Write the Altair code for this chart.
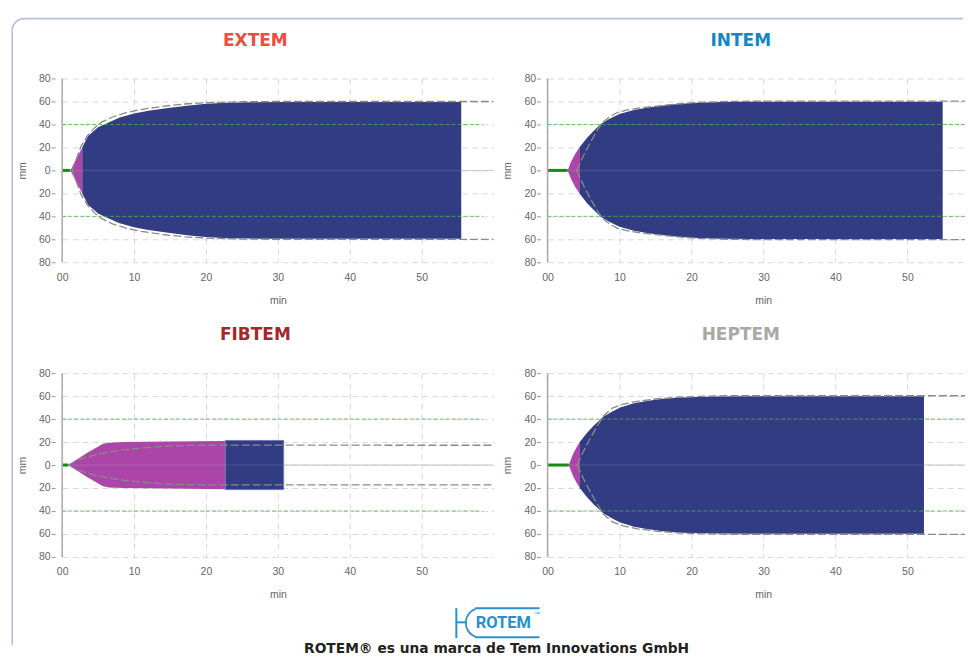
import math
import altair as alt
import pandas as pd

# ---------------- data ----------------
TESTS = ["EXTEM", "INTEM", "FIBTEM", "HEPTEM"]
TITLE_COLORS = ["#f04b3e", "#1586c3", "#a3282b", "#a9a9a3"]
CT_TIMES = [1.15, 2.8, 0.85, 2.96]          # min (green segment)

EXTEM_PINK_T = [1.15, 1.8, 2.35, 2.8]
EXTEM_PINK_A = [0, 8, 14.5, 20]
EXTEM_BLUE_T = [2.8, 3.6, 5, 6, 8, 10, 12, 15, 18, 20, 23, 26, 30, 55.5]
EXTEM_BLUE_A = [20, 30, 37.5, 40.5, 46, 49.5, 52, 54.5, 56.8, 58, 59, 59.4, 59.5, 59.5]
EXTEM_REF_T = [1.4, 2.6, 3.5, 4.5, 5.5, 7, 9, 11, 14, 17, 20, 25, 30, 60]
EXTEM_REF_A = [0, 20.5, 30, 37, 42, 46.5, 50.5, 53, 55.8, 57.8, 59, 59.8, 60, 60]

INTEM_PINK_T = [2.8, 3.3, 3.9, 4.5]
INTEM_PINK_A = [0, 8, 15, 20.5]
INTEM_BLUE_T = [4.5, 5.5, 6.5, 7.4, 8.5, 10, 12, 14, 17, 20, 24, 28, 54.9]
INTEM_BLUE_A = [20.5, 28.5, 35, 40.3, 44.5, 49, 52.5, 54.8, 57.2, 58.7, 59.5, 59.8, 59.8]
INTEM_REF_T = [4.05, 5, 6, 7, 7.6, 8.5, 9.7, 11, 13, 15.7, 18, 21, 25, 30, 60]
INTEM_REF_A = [0, 13, 25, 36, 41.5, 46, 50.4, 52.5, 54.5, 56.3, 57.8, 59.2, 60, 60.3, 60.3]

FIBTEM_PINK_T = [0.85, 3.4, 5.7, 6.5, 8.5, 15, 22.7]
FIBTEM_PINK_A = [0, 10.2, 18.5, 19.5, 20, 20.5, 21]
FIBTEM_BLUE_T = [22.7, 30.8]
FIBTEM_BLUE_A = [21.4, 21.4]
FIBTEM_REF_T = [0.9, 2, 3.6, 5, 6.9, 8.5, 10.5, 13, 15.2, 18, 22, 60]
FIBTEM_REF_A = [0, 4, 7.2, 9.5, 11.6, 13.2, 14.5, 15.8, 16.7, 17.1, 17.3, 17.2]

HEPTEM_PINK_T = [2.96, 3.5, 4.0, 4.5]
HEPTEM_PINK_A = [0, 9, 15, 20.3]
HEPTEM_BLUE_T = [4.5, 5.5, 6.4, 7.8, 9, 10.1, 12, 13.8, 16, 18.5, 23, 28, 52.3]
HEPTEM_BLUE_A = [20.3, 28, 34.2, 42.3, 46.5, 50, 53.8, 55.8, 57.6, 58.9, 59.7, 59.8, 59.8]
HEPTEM_REF_T = [4.1, 5, 6, 7, 7.8, 9, 10.5, 12.5, 15, 18, 21, 25, 60]
HEPTEM_REF_A = [0, 12, 24, 35, 43, 49.5, 53, 55.5, 57.5, 59, 59.8, 60.3, 60.3]

PINK_T = [EXTEM_PINK_T, INTEM_PINK_T, FIBTEM_PINK_T, HEPTEM_PINK_T]
PINK_A = [EXTEM_PINK_A, INTEM_PINK_A, FIBTEM_PINK_A, HEPTEM_PINK_A]
BLUE_T = [EXTEM_BLUE_T, INTEM_BLUE_T, FIBTEM_BLUE_T, HEPTEM_BLUE_T]
BLUE_A = [EXTEM_BLUE_A, INTEM_BLUE_A, FIBTEM_BLUE_A, HEPTEM_BLUE_A]
REF_T = [EXTEM_REF_T, INTEM_REF_T, FIBTEM_REF_T, HEPTEM_REF_T]
REF_A = [EXTEM_REF_A, INTEM_REF_A, FIBTEM_REF_A, HEPTEM_REF_A]

X_TICKS = [0, 10, 20, 30, 40, 50]
Y_TICKS = [-80, -60, -40, -20, 0, 20, 40, 60, 80]
BAND_Y = [40, -40]
BAND_END = 58.5

FOOTER_TEXT = "ROTEM® es una marca de Tem Innovations GmbH"
LOGO_TEXT = "ROTEM"

# ---------------- style ----------------
BLUE = "#323c82"
PINK = "#ab46a8"
GRID = "#d9d9d9"
LABEL = "#666666"
LOGO_BLUE = "#2a8fce"
BORDER = "#b6bce6"
PLOT_H = 184


def decorations():
    """Page frame, ROTEM logo and caption, positioned relative to the FIBTEM panel."""
    one = pd.DataFrame({"k": [0]})
    fb = alt.Chart(one)
    oy = 224  # footer block offset below the FIBTEM panel origin
    return [
        fb.mark_rule(color=BORDER, strokeWidth=1.6).encode(
            x=alt.value(-50), y=alt.value(-343), y2=alt.value(272)),
        fb.mark_rule(color=BORDER, strokeWidth=1.6).encode(
            x=alt.value(-38), x2=alt.value(902), y=alt.value(-355)),
        fb.mark_arc(color=BORDER, innerRadius=11.2, outerRadius=12.8,
                    theta=1.5 * math.pi, theta2=2 * math.pi).encode(
            x=alt.value(-38), y=alt.value(-343)),
        fb.mark_rule(color=LOGO_BLUE, strokeWidth=2).encode(
            x=alt.value(394.7), y=alt.value(oy + 11.3), y2=alt.value(oy + 41.3)),
        fb.mark_rule(color=LOGO_BLUE, strokeWidth=2).encode(
            x=alt.value(394.7), x2=alt.value(405), y=alt.value(oy + 25.5)),
        fb.mark_rule(color=LOGO_BLUE, strokeWidth=2).encode(
            x=alt.value(413.5), x2=alt.value(478), y=alt.value(oy + 11.5)),
        fb.mark_rule(color=LOGO_BLUE, strokeWidth=2).encode(
            x=alt.value(413.5), x2=alt.value(478), y=alt.value(oy + 40.5)),
        fb.mark_arc(color=LOGO_BLUE, innerRadius=14, outerRadius=15.8,
                    theta=math.radians(200), theta2=math.radians(340)).encode(
            x=alt.value(419), y=alt.value(oy + 26)),
        fb.mark_text(text=LOGO_TEXT, font="Roboto", fontSize=16.5,
                     fontWeight="bold", color=LOGO_BLUE, align="center",
                     baseline="middle").encode(x=alt.value(441.7), y=alt.value(oy + 26)),
        fb.mark_text(text="™", font="Liberation Sans", fontSize=6, color=LOGO_BLUE,
                     align="left", baseline="middle").encode(
            x=alt.value(472.5), y=alt.value(oy + 17)),
        fb.mark_text(text=FOOTER_TEXT, font="DejaVu Sans", fontSize=13.8, fontWeight="bold",
                     color="#222222", align="center", baseline="alphabetic").encode(
            x=alt.value(435), y=alt.value(oy + 56)),
    ]


def panel(i, xmax, width, extra=()):
    name = TESTS[i]
    xs = alt.Scale(domain=[0, xmax], nice=False, zero=False)
    ys = alt.Scale(domain=[-80, 80], nice=False, zero=False)
    xaxis = alt.Axis(values=X_TICKS, labelExpr="datum.value == 0 ? '00' : datum.label",
                     title="min", grid=True, gridDash=[6, 4], gridColor=GRID,
                     ticks=False, domain=False, labelPadding=10, labelFlush=False,
                     labelFont="Liberation Sans",
                     labelFontSize=10.5, labelColor=LABEL, titleFont="Liberation Sans",
                     titleFontSize=10.5, titleColor=LABEL, titleFontWeight="normal",
                     titleX=216, titleY=38, titleBaseline="middle")
    yaxis = alt.Axis(values=Y_TICKS, labelExpr="'' + abs(datum.value)", title="mm",
                     grid=True, gridDash=[6, 4], gridColor=GRID, domain=False,
                     ticks=True, tickSize=4, tickColor="#999999", offset=7, labelPadding=1,
                     labelFlush=False,
                     labelFont="Liberation Sans", labelFontSize=10.5, labelColor=LABEL,
                     titleFont="Liberation Sans", titleFontSize=10.5, titleColor=LABEL,
                     titleFontWeight="normal", titleX=-33, titleY=PLOT_H / 2, titleAngle=270,
                     titleBaseline="middle", titleAlign="center")

    def X(f):
        return alt.X(f, type="quantitative", scale=xs, axis=xaxis)

    def Y(f):
        return alt.Y(f, type="quantitative", scale=ys, axis=yaxis)

    pink = pd.DataFrame({"t": PINK_T[i], "a": PINK_A[i]})
    pink["b"] = -pink["a"]
    blue = pd.DataFrame({"t": BLUE_T[i], "a": BLUE_A[i]})
    blue["b"] = -blue["a"]
    ref_up = pd.DataFrame({"t": REF_T[i], "a": REF_A[i], "side": "up"})
    ref_lo = ref_up.assign(a=-ref_up["a"], side="lo")
    ref = pd.concat([ref_up, ref_lo], ignore_index=True)
    zero = pd.DataFrame({"x0": [0.0], "x1": [float(xmax)], "y": [0.0]})
    band = pd.DataFrame({"x0": [0.0, 0.0], "x1": [BAND_END, BAND_END], "y": BAND_Y})
    ct = pd.DataFrame({"x0": [0.0], "x1": [CT_TIMES[i]], "y": [0.0]})
    yline = pd.DataFrame({"x": [0.0], "y0": [-80.0], "y1": [80.0]})
    title = pd.DataFrame({"name": [name]})

    blue_mark = {"color": BLUE}
    if name == "FIBTEM":
        blue_mark.update(stroke="#7077b8", strokeWidth=1)

    layers = [
        alt.Chart(zero).mark_rule(color="#cccccc", strokeWidth=1, clip=True).encode(
            x=X("x0"), x2="x1", y=Y("y")),
        alt.Chart(pink).mark_area(color=PINK, interpolate="linear", clip=True).encode(
            x=X("t"), y=Y("a"), y2="b"),
        alt.Chart(blue).mark_area(interpolate="linear", clip=True, **blue_mark).encode(
            x=X("t"), y=Y("a"), y2="b"),
        alt.Chart(ref).mark_line(color="#8a8a8a", strokeWidth=1.3, strokeDash=[8, 3],
                                 clip=True).encode(x=X("t"), y=Y("a"), detail="side:N"),
        alt.Chart(band).mark_rule(color="#4fae4f", strokeDash=[4, 2], strokeWidth=1,
                                  opacity=0.8, clip=True).encode(x=X("x0"), x2="x1", y=Y("y")),
        alt.Chart(zero).mark_rule(color="#c8c8c8", strokeWidth=1, opacity=0.2,
                                  clip=True).encode(x=X("x0"), x2="x1", y=Y("y")),
        alt.Chart(ct).mark_rule(color="#178a17", strokeWidth=3).encode(
            x=X("x0"), x2="x1", y=Y("y")),
        alt.Chart(yline).mark_rule(color="#aaaaaa", strokeWidth=1.5).encode(
            x=X("x"), y=Y("y0"), y2="y1"),
        # panel heading
        alt.Chart(title).mark_text(font="DejaVu Sans", fontSize=17, fontWeight="bold",
                                   color=TITLE_COLORS[i], align="center",
                                   baseline="alphabetic").encode(
            text="name:N", x=alt.value(193.5), y=alt.value(-32.8)),
    ] + list(extra)
    return alt.layer(*layers).properties(width=width, height=PLOT_H)


LEFT_W, LEFT_X = 432, 60
RIGHT_W, RIGHT_X = 418, 58

extem = panel(0, LEFT_X, LEFT_W)
intem = panel(1, RIGHT_X, RIGHT_W)
fibtem = panel(2, LEFT_X, LEFT_W, extra=decorations())
heptem = panel(3, RIGHT_X, RIGHT_W)

chart = alt.concat(
    extem, intem, fibtem, heptem, columns=2,
    spacing={"row": 111, "column": 54}, bounds="flush",
).properties(
    padding={"left": 3.2, "top": 9.2, "right": 0, "bottom": 0},
    background="white",
).configure_view(stroke=None)

chart.save("out.html", embed_options={"renderer": "svg", "actions": False})
